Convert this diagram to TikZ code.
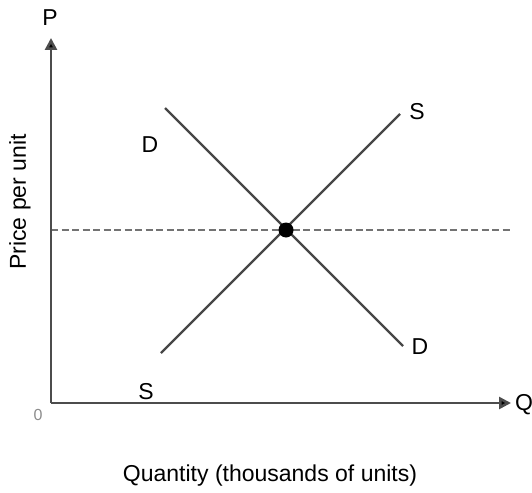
\documentclass[tikz,border=0pt]{standalone}
\usepackage{fontspec}
\setmainfont{Liberation Sans}
\usetikzlibrary{arrows.meta}
\begin{document}
\begin{tikzpicture}[x=1pt,y=-1pt,
  lbl/.style={inner sep=0pt,font=\fontsize{23}{27}\selectfont},
  axis/.style={draw=black!70,line width=2.6pt,-{Triangle[length=12pt,width=12pt,fill=black]}},
  curve/.style={draw=black!72,line width=2.4pt},
  guide/.style={draw=black!55,line width=1.4pt,dash pattern=on 7pt off 3.5pt}]
\useasboundingbox (0,0) rectangle (532,492);
\coordinate (O) at (51,403);
\coordinate (Ytop) at (51,38);
\coordinate (Xend) at (511,403);
\coordinate (Gl) at (51,230);
\coordinate (Gr) at (510,230);
\coordinate (D1) at (165,108);
\coordinate (D2) at (403,346);
\coordinate (S1) at (161,353);
\coordinate (S2) at (400,114);
\draw[guide] (Gl) -- (Gr);
\draw[axis] (O) -- (Ytop);
\draw[axis] (O) -- (Xend);
\draw[curve] (D1) -- (D2);
\draw[curve] (S1) -- (S2);
\node[circle,fill=black,minimum size=15pt,inner sep=0pt] (E) at (286,230) {};
\node[lbl] (P) at (50,18) {P};
\node[lbl] (Q) at (524,405) {Q};
\node[inner sep=0pt,text=black!45,font=\fontsize{16}{18}\selectfont] (zero) at (38,415) {0};
\node[lbl] (Dt) at (150,145) {D};
\node[lbl] (Db) at (420,347) {D};
\node[lbl] (St) at (417,112) {S};
\node[lbl] (Sb) at (146,392) {S};
\node[lbl,rotate=90] (ylab) at (20,202) {Price per unit};
\node[lbl] (xlab) at (270,476) {Quantity (thousands of units)};
\end{tikzpicture}
\end{document}
